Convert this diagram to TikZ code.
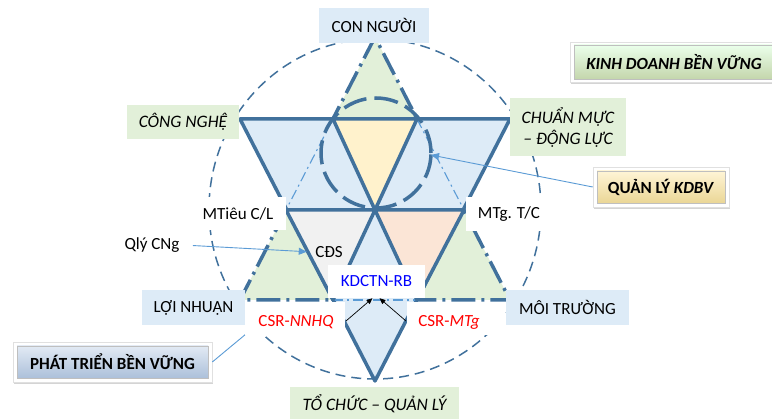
\documentclass[tikz,border=0pt]{standalone}
\usepackage{fontspec}
\setmainfont{Carlito}
\usetikzlibrary{arrows.meta,shadows}

\definecolor{edge}{RGB}{65,113,156}
\definecolor{skyfill}{RGB}{221,235,247}
\definecolor{leaf}{RGB}{226,240,217}
\definecolor{cream}{RGB}{255,242,204}
\definecolor{peach}{RGB}{251,229,214}
\definecolor{ash}{RGB}{241,241,241}
\definecolor{link}{RGB}{91,155,213}
\definecolor{csred}{RGB}{255,0,0}
\definecolor{csblue}{RGB}{0,0,255}

\tikzset{
  solidedge/.style={draw=edge, line width=3.5pt, line join=round},
  dashdotthick/.style={draw=edge, line width=3.5pt, dash pattern=on 24pt off 6pt on 3pt off 6pt},
  dashdotthin/.style={draw=link, line width=1.1pt, dash pattern=on 10pt off 4pt on 2pt off 4pt},
  bluelabel/.style={fill=skyfill, inner sep=0pt},
  greenlabel/.style={fill=leaf, inner sep=0pt, font=\fontsize{17.5}{21}\selectfont\itshape},
  whitelabel/.style={fill=white, inner sep=0pt},
  btnframe/.style={fill=white, draw=black!12, line width=0.6pt,
    drop shadow={shadow xshift=0.5pt, shadow yshift=-2pt, opacity=0.28, fill=black!60}},
  btn/.style={inner sep=0pt, line width=0.8pt, font=\fontsize{17}{20}\selectfont\bfseries},
  linkarrow/.style={draw=link, line width=0.9pt, -{Triangle[length=8pt,width=7pt]}},
  linkline/.style={draw=link, line width=0.9pt},
  blackarrow/.style={draw=black, line width=0.7pt, -{Triangle[length=6pt,width=5pt]}},
}

\begin{document}
\begin{tikzpicture}[x=1pt,y=-1pt,font=\fontsize{17}{20}\selectfont]
\useasboundingbox (0,0) rectangle (772,419);
\clip (0,0) rectangle (772,419);

% corner points of the two large triangles
\coordinate (T)  at (375,37);
\coordinate (BL) at (240,300);
\coordinate (BR) at (510,300);
\coordinate (TL) at (240,119);
\coordinate (TR) at (510,119);
\coordinate (B)  at (375,381);
% central hexagon and its centre
\coordinate (O)  at (375,210);
\coordinate (h1) at (333,119);
\coordinate (h2) at (417,119);
\coordinate (h3) at (464,210);
\coordinate (h4) at (417,300);
\coordinate (h5) at (333,300);
\coordinate (h6) at (286,210);

% upward triangle
\fill[leaf] (T) -- (BL) -- (BR) -- cycle;
\draw[dashdotthick] (T) -- (BL) -- (BR) -- cycle;

% downward triangle
\fill[skyfill] (TL) -- (TR) -- (B) -- cycle;
\draw[solidedge] (TL) -- (TR) -- (B) -- cycle;

% edges of the upward triangle seen through the blue area
\draw[dashdotthin] (h1) -- (h6);
\draw[dashdotthin] (h2) -- (h3);
\draw[dashdotthin] (h5) -- (h4);

% coloured triangles of the hexagon
\filldraw[fill=cream, solidedge] (h1) -- (h2) -- (O) -- cycle;
\filldraw[fill=ash, solidedge] (h6) -- (O) -- (h5) -- cycle;
\filldraw[fill=peach, solidedge] (O) -- (h3) -- (h4) -- cycle;

% inner dashed circle
\coordinate (ic) at (376,153);
\draw[edge, line width=3.5pt, dash pattern=on 24pt off 8pt] (ic) circle [radius=55pt];
\coordinate (icE) at (431,155);

% outer dashed ellipse
\draw[edge, line width=1.5pt, dash pattern=on 10pt off 6pt] (375,209) ellipse [x radius=166pt, y radius=170pt];
\coordinate (ocSW) at (255,326.5);

% corner labels
\node[bluelabel, minimum width=110pt, minimum height=35pt] (human) at (374,25.5) {CON NGƯỜI};
\node[greenlabel, minimum width=112pt, minimum height=34pt] (tech) at (183,122) {CÔNG NGHỆ};
\node[greenlabel, minimum width=116pt, minimum height=58pt, align=center] (norm) at (568,127) {CHUẨN MỰC\\– ĐỘNG LỰC};
\node[bluelabel, minimum width=103pt, minimum height=35pt] (profit) at (193.5,307.5) {LỢI NHUẬN};
\node[bluelabel, minimum width=123pt, minimum height=35pt] (env) at (567.5,307.5) {MÔI TRƯỜNG};
\node[greenlabel, minimum width=169pt, minimum height=34pt] (org) at (374.5,404) {TỔ CHỨC – QUẢN LÝ};

% inner labels
\node[whitelabel, minimum width=95pt, minimum height=33pt] (goal) at (238,213.5) {MTiêu C/L};
\node[whitelabel, minimum width=86pt, minimum height=34pt] (mtg) at (509,214) {MTg. T/C};
\node[whitelabel, minimum width=97pt, minimum height=33pt, text=csblue] (core) at (376.5,281.5) {KDCTN-RB};
\node (cds) at (329,252) {CĐS};
\node (qly) at (152,245) {Qlý CNg};

% buttons
\node[btnframe, minimum width=208pt, minimum height=40pt] (kdbvframe) at (674,62) {};
\node[btn, minimum width=200pt, minimum height=34pt, draw=black!25, top color=green!8!white, bottom color={rgb,255:red,196;green,214;blue,172}] (kdbv) at (674,62) {\textit{KINH DOANH BỀN VỮNG}};

\node[btnframe, minimum width=136pt, minimum height=40pt] (qlframe) at (661,187) {};
\node[btn, minimum width=128pt, minimum height=32pt, draw=black!25, top color={rgb,255:red,255;green,245;blue,214}, bottom color={rgb,255:red,234;green,214;blue,150}] (qlkdbv) at (661,187) {QUẢN LÝ \textit{KDBV}};

\node[btnframe, minimum width=199pt, minimum height=40pt] (ptframe) at (112.5,362) {};
\node[btn, minimum width=191pt, minimum height=32pt, draw=black!25, top color={rgb,255:red,226;green,234;blue,244}, bottom color={rgb,255:red,172;green,192;blue,218}] (ptbv) at (112.5,362) {PHÁT TRIỂN BỀN VỮNG};

% connectors
\draw[linkarrow] (qlframe.west) -- (icE);
\draw[linkarrow, shorten <=10pt, shorten >=5pt] (qly.east) -- (cds.west);
\draw[linkline] (ptframe.east) -- (ocSW);

% CSR labels on white backgrounds
\fill[white] (245,302) rectangle (345,335);
\fill[white] (407,302) rectangle (505,335);
\node[text=csred] (nnhq) at (296,322) {CSR-\textit{NNHQ}};
\node[text=csred] (csrmtg) at (449,322) {CSR-\textit{MTg}};
\coordinate (nnhqE) at (346,321);
\coordinate (mtgW) at (406,321);
\draw[blackarrow] (nnhqE) -- ([xshift=-4pt]core.south);
\draw[blackarrow] (mtgW) -- ([xshift=3pt]core.south);
\end{tikzpicture}
\end{document}
